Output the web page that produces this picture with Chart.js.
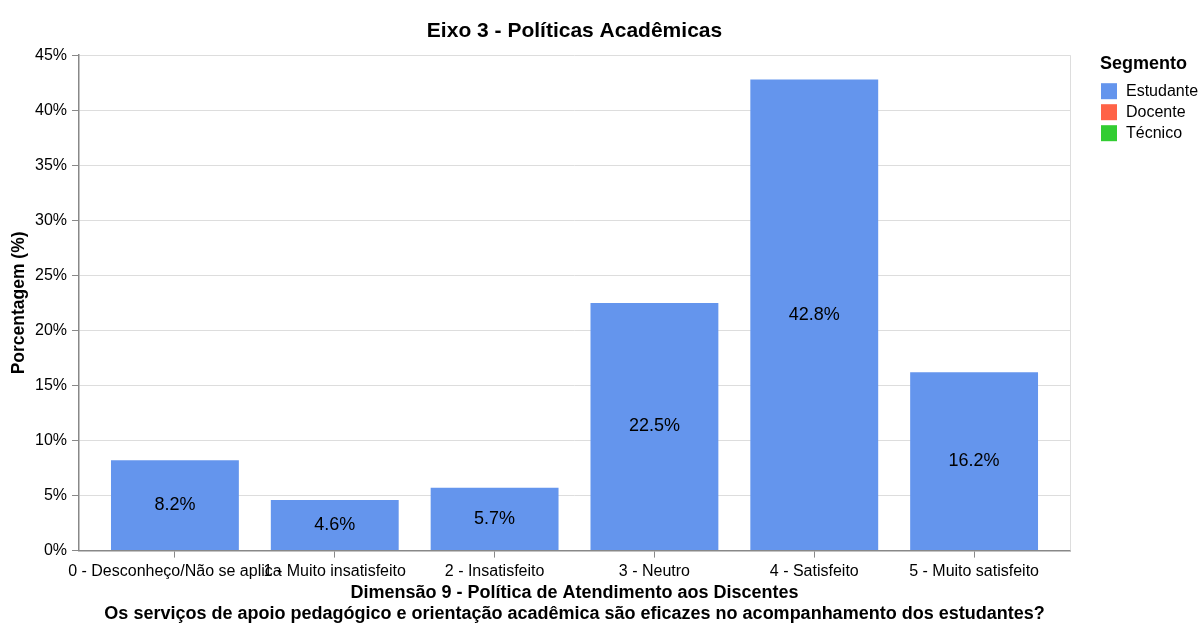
<!DOCTYPE html>
<html>
<head>
<meta charset="utf-8">
<script src="https://cdn.jsdelivr.net/npm/chart.js@4.4.1/dist/chart.umd.min.js"></script>
<style>
  body { margin: 0; background: #fff; }
  #wrap { width: 1201px; height: 624px; position: relative; }
</style>
</head>
<body>
<div id="wrap"><canvas id="chart"></canvas></div>
<script>
const categories = [
    '0 - Desconheço/Não se aplica',
    '1 - Muito insatisfeito',
    '2 - Insatisfeito',
    '3 - Neutro',
    '4 - Satisfeito',
    '5 - Muito satisfeito'
];
const estudante = [8.2, 4.6, 5.7, 22.5, 42.8, 16.2];
const segments = ['Estudante', 'Docente', 'Técnico'];
const segmentColors = ['#6495ED', '#FF6347', '#32CD32'];
const yTicks = [0, 5, 10, 15, 20, 25, 30, 35, 40, 45];

const FONT = "'Liberation Sans', Arial, sans-serif";

// labels in the middle of each bar
const barLabels = {
    id: 'barLabels',
    afterDatasetsDraw(chart) {
        const ctx = chart.ctx;
        const meta = chart.getDatasetMeta(0);
        ctx.save();
        ctx.font = '18px ' + FONT;
        ctx.fillStyle = '#000';
        ctx.textAlign = 'center';
        ctx.textBaseline = 'middle';
        meta.data.forEach((el, i) => {
            ctx.fillText(estudante[i].toFixed(1) + '%', el.x, (el.y + el.base) / 2);
        });
        ctx.restore();
    }
};

// light frame on the right of the plot area
const frame = {
    id: 'frame',
    beforeDatasetsDraw(chart) {
        const a = chart.chartArea;
        const ctx = chart.ctx;
        ctx.save();
        ctx.strokeStyle = '#ddd';
        ctx.lineWidth = 1;
        ctx.beginPath();
        ctx.moveTo(a.right + 0.5, a.top);
        ctx.lineTo(a.right + 0.5, a.bottom);
        ctx.stroke();
        ctx.restore();
    }
};

// legend "Segmento" to the right of the plot
const segLegend = {
    id: 'segLegend',
    afterDraw(chart) {
        const ctx = chart.ctx;
        const x0 = chart.chartArea.right + 30;
        const top = chart.chartArea.top;
        ctx.save();
        ctx.fillStyle = '#000';
        ctx.textBaseline = 'middle';
        ctx.textAlign = 'left';
        ctx.font = 'bold 18px ' + FONT;
        ctx.fillText('Segmento', x0, top + 9);
        ctx.font = '16px ' + FONT;
        segments.forEach((s, i) => {
            const cy = top + 36 + i * 21;
            ctx.fillStyle = segmentColors[i];
            ctx.fillRect(x0 + 1, cy - 8, 16, 16);
            ctx.fillStyle = '#000';
            ctx.fillText(s, x0 + 26, cy);
        });
        ctx.restore();
    }
};

const datasets = segments.map((name, i) => ({
    label: name,
    data: i === 0 ? estudante.map((v, k) => ({ x: k, y: v })) : [],
    backgroundColor: segmentColors[i],
    borderWidth: 0,
    grouped: false,
    categoryPercentage: 1,
    barPercentage: 0.8
}));

new Chart(document.getElementById('chart'), {
    type: 'bar',
    data: { datasets },
    options: {
        responsive: true,
        maintainAspectRatio: false,
        animation: false,
        layout: { padding: { left: 9, right: 131, top: 4, bottom: -1 } },
        plugins: {
            title: {
                display: true,
                text: 'Eixo 3 - Políticas Acadêmicas',
                fullSize: false,
                color: '#000',
                font: { family: FONT, size: 21, weight: 'bold' },
                padding: { top: 15, bottom: 11 }
            },
            legend: { display: false },
            tooltip: { enabled: false }
        },
        scales: {
            x: {
                type: 'linear',
                offset: false,
                min: -0.6,
                max: 5.6,
                afterBuildTicks(scale) {
                    scale.ticks = categories.map((c, i) => ({ value: i }));
                },
                ticks: {
                    autoSkip: false,
                    maxRotation: 0,
                    minRotation: 0,
                    color: '#000',
                    padding: 4,
                    font: { family: FONT, size: 16 },
                    callback: (v) => categories[v]
                },
                grid: { offset: false, drawOnChartArea: false, drawTicks: true, tickLength: 7, color: '#888' },
                border: { color: '#888', width: 1.5 },
                title: {
                    display: true,
                    text: ['Dimensão 9 - Política de Atendimento aos Discentes',
                        'Os serviços de apoio pedagógico e orientação acadêmica são eficazes no acompanhamento dos estudantes?'],
                    color: '#000',
                    font: { family: FONT, size: 18, weight: 'bold', lineHeight: 1.2 },
                    padding: { top: -3, bottom: 0 }
                }
            },
            y: {
                min: 0,
                max: 45,
                afterBuildTicks(scale) {
                    scale.ticks = yTicks.map(v => ({ value: v }));
                },
                ticks: {
                    color: '#000',
                    padding: 5,
                    font: { family: FONT, size: 16 },
                    callback: (v) => v + '%'
                },
                grid: { color: '#ddd', tickColor: '#888', tickLength: 7 },
                border: { color: '#888', width: 1.5 },
                title: {
                    display: true,
                    text: 'Porcentagem (%)',
                    color: '#000',
                    font: { family: FONT, size: 17.5, weight: 'bold' },
                    padding: { top: 0, bottom: 0 }
                }
            }
        }
    },
    plugins: [frame, barLabels, segLegend]
});
</script>
</body>
</html>
